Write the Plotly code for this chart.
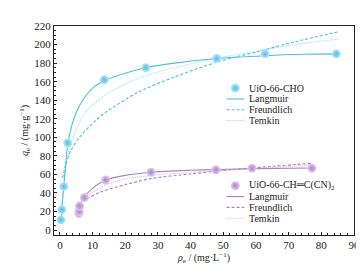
import plotly.graph_objects as go

# ---- measured data ----
cho_x = [0.3, 0.6, 1.2, 2.4, 13.6, 26.3, 48.0, 62.8, 84.6]
cho_y = [11, 22, 47, 94, 162, 175, 185, 190, 190]

cn_x = [5.8, 5.9, 6.0, 7.5, 14.0, 27.9, 47.7, 58.8, 77.1]
cn_y = [18, 20, 26, 35, 54, 62.4, 65, 66.7, 66.7]

# ---- fitted curves ----
cho_lang_x = [0.3, 0.6, 1.2, 2.4, 4, 6, 10, 13.6, 20, 26.3, 35, 48, 62.8, 75, 85]
cho_lang_y = [11, 23, 47, 92, 117, 134, 153, 161, 169, 175, 180, 185, 188, 189.5, 190]
cho_freu_x = [0.8, 1.9, 3.4, 6, 10.9, 13.6, 23.6, 35, 48, 60, 72, 85.5]
cho_freu_y = [56, 72, 86, 100, 118, 126, 148, 165, 181, 192, 203, 214]
cho_temk_x = [0.5, 1.2, 2.4, 4, 7.9, 13.6, 23.6, 35, 48, 60, 72, 85.5]
cho_temk_y = [20, 50, 78, 100, 127, 145, 163, 175, 185, 193, 200, 206]

cn_lang_x = [6.5, 7.5, 10, 14, 20, 27.9, 40, 47.7, 60, 77]
cn_lang_y = [31, 36, 45, 54, 59, 62.4, 64.5, 65.3, 66.3, 67]
cn_freu_x = [7, 9, 12.4, 20, 27.8, 40, 47.7, 58.8, 77]
cn_freu_y = [31, 35, 41, 49, 55.5, 60.5, 63.5, 67, 72]
cn_temk_x = [7, 9, 12, 14, 20, 28, 40, 48, 60, 77]
cn_temk_y = [32, 38, 45, 49, 55, 59, 62, 64, 66.5, 70]

x_ticks = [0, 10, 20, 30, 40, 50, 60, 70, 80, 90]
y_ticks = [0, 20, 40, 60, 80, 100, 120, 140, 160, 180, 200, 220]

BLUE = "#4fbde5"
BLUE_HI = "#b9e8f8"
BLUE_L = "#9fdcf2"
PURP = "#ad80c8"
PURP_HI = "#e2cdee"
PURP_L = "#d2b5e2"
FONT = "Liberation Serif"

fig = go.Figure()

def curve(x, y, color, dash, width=1.1):
    fig.add_trace(go.Scatter(x=x, y=y, mode="lines", line=dict(color=color, width=width, dash=dash, shape="spline", smoothing=0.8),
                             showlegend=False, hoverinfo="skip"))

curve(cho_temk_x, cho_temk_y, BLUE_L, "1px,1px")
curve(cho_freu_x, cho_freu_y, BLUE, "3px,2px")
curve(cho_lang_x, cho_lang_y, BLUE, "solid")
curve(cn_temk_x, cn_temk_y, PURP_L, "1px,1px")
curve(cn_freu_x, cn_freu_y, PURP, "3px,2px")
curve(cn_lang_x, cn_lang_y, PURP, "solid")

def pts(x, y, hi, color):
    fig.add_trace(go.Scatter(x=x, y=y, mode="markers",
                             marker=dict(size=9, color=hi, line=dict(width=0),
                                         gradient=dict(type="radial", color=color)),
                             showlegend=False))

pts(cho_x, cho_y, BLUE_HI, BLUE)
pts(cn_x, cn_y, PURP_HI, PURP)

# ---- manual legends (paper coordinates) ----
L, R, T, B = 46, 352, 15, 227
W, H = 364, 266
def px(x):
    return (x - L) / (R - L)
def py(y):
    return (B - y) / (B - T)

legend_blocks = [
    (78, "UiO-66-CHO", BLUE, BLUE_HI, BLUE_L),
    (177, "UiO-66-CH═C(CN)<sub>2</sub>", PURP, PURP_HI, PURP_L),
]
row_labels = ["Langmuir", "Freundlich", "Temkin"]
for y0, title, col, hi, col_l in legend_blocks:
    fig.add_trace(go.Scatter(x=[px(231)], y=[py(y0)], mode="markers", xaxis="x2", yaxis="y2",
                             marker=dict(size=9, color=hi, line=dict(width=0),
                                         gradient=dict(type="radial", color=col)),
                             showlegend=False, hoverinfo="skip"))
    fig.add_annotation(x=px(243), y=py(y0), xref="paper", yref="paper", text=title, showarrow=False,
                       xanchor="left", yanchor="middle", font=dict(family=FONT, size=10, color="#222"))
    dashes = ["solid", "3px,2px", "1px,1px"]
    cols = [col, col, col_l]
    for i, lab in enumerate(row_labels):
        yy = y0 + 11 * (i + 1)
        fig.add_shape(type="line", xref="paper", yref="paper", x0=px(222), x1=px(240), y0=py(yy), y1=py(yy),
                      line=dict(color=cols[i], width=1.1, dash=dashes[i]))
        fig.add_annotation(x=px(243), y=py(yy), xref="paper", yref="paper", text=lab, showarrow=False,
                           xanchor="left", yanchor="middle", font=dict(family=FONT, size=10, color="#222"))

axis_common = dict(showgrid=False, zeroline=False, showline=True, linecolor="#222", linewidth=1,
                   mirror=True, ticks="inside", ticklen=3, tickcolor="#222",
                   tickfont=dict(family=FONT, size=11, color="#222"))

fig.update_layout(
    width=W, height=H,
    margin=dict(l=L, r=W - R, t=T, b=H - B),
    plot_bgcolor="white", paper_bgcolor="white",
    xaxis=dict(range=[-1.8, 90], tickvals=x_ticks,
               minor=dict(dtick=2, ticks="inside", ticklen=2, tickcolor="#222"),
               title=dict(text="<i>ρ</i><sub>e</sub> / (mg·L<sup>−1</sup>)", standoff=0,
                          font=dict(family=FONT, size=10, color="#222")),
               **axis_common),
    yaxis=dict(range=[-5.3, 220], tickvals=y_ticks,
               minor=dict(dtick=5, ticks="inside", ticklen=2, tickcolor="#222"),
               title=dict(text="<i>q</i><sub>e</sub> / (mg·g<sup>−1</sup>)", standoff=3,
                          font=dict(family=FONT, size=10, color="#222")),
               **axis_common),
    xaxis2=dict(overlaying="x", range=[0, 1], visible=False, domain=[0, 1]),
    yaxis2=dict(overlaying="y", range=[0, 1], visible=False),
    showlegend=False,
)

fig.write_html("out.html")
